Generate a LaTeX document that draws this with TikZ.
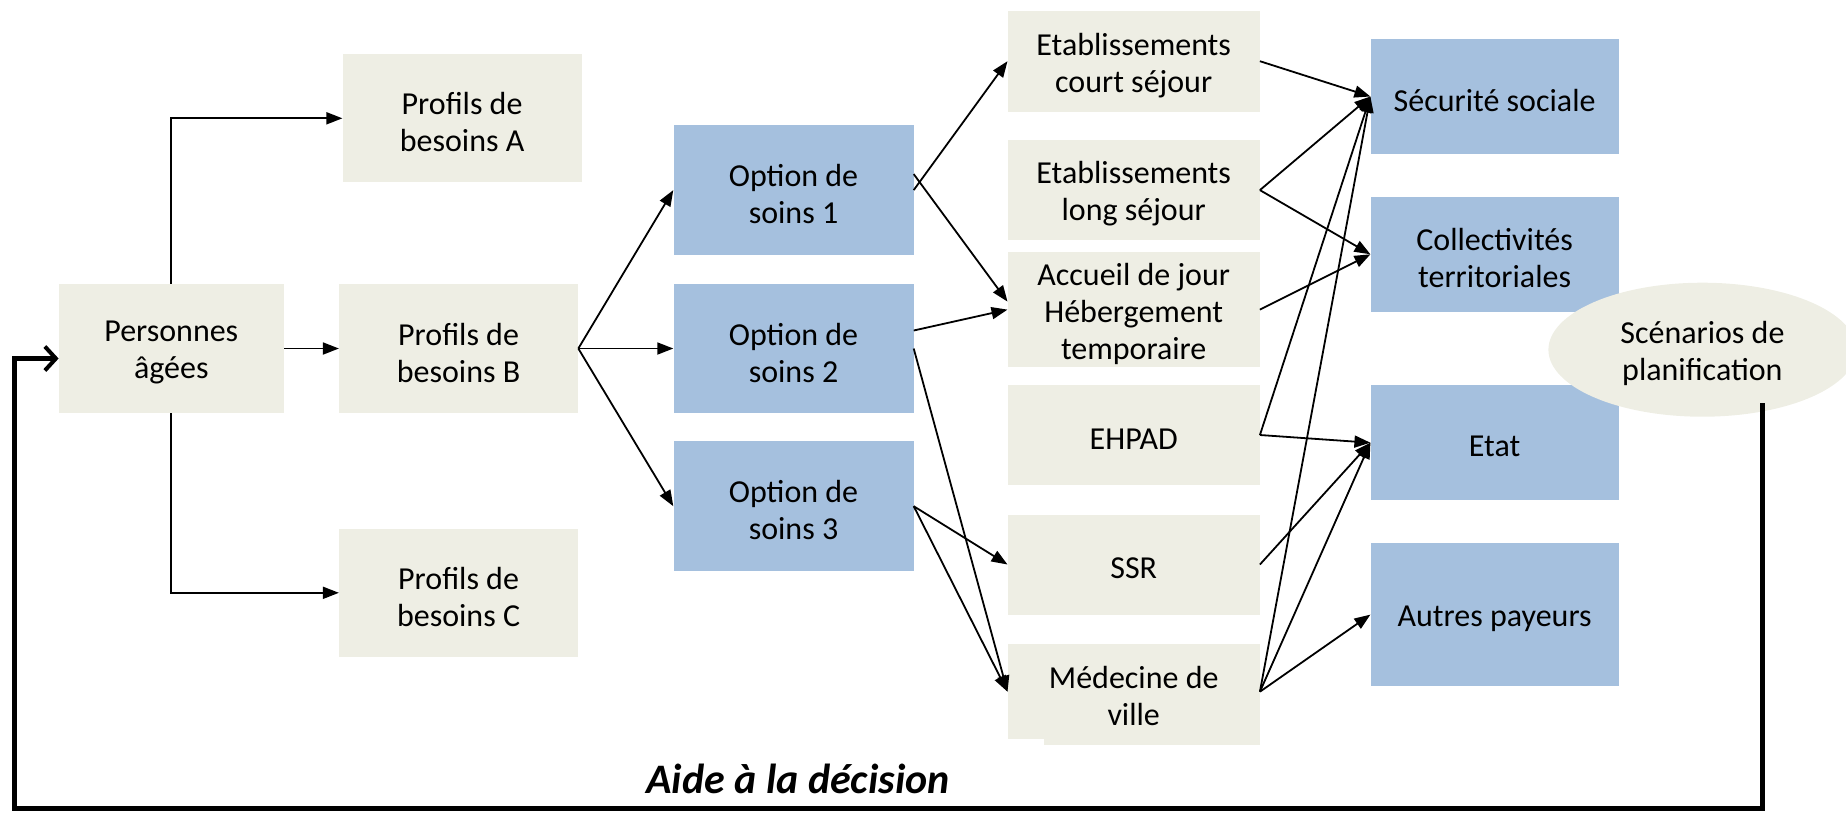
\documentclass[tikz,border=0pt]{standalone}
\usepackage{fontspec}
\setmainfont{Carlito}
\usetikzlibrary{arrows.meta,shapes.geometric}
\definecolor{beigec}{RGB}{238,238,228}
\definecolor{bluec}{RGB}{165,192,222}
\begin{document}
\begin{tikzpicture}[x=1pt,y=-1pt,
  base/.style={inner sep=0pt, align=center, font=\fontsize{32}{37}\selectfont, text=black},
  txt/.style={base, yshift=-4pt},
  bbox/.style={inner sep=0pt, rectangle, fill=beigec},
  blbox/.style={inner sep=0pt, rectangle, fill=bluec},
  conn/.style={line width=1.8pt, draw=black, -{Triangle[length=16pt,width=12pt]}},
  fback/.style={line width=5pt, draw=black, line join=miter, -{Straight Barb[length=11pt,width=24pt,line width=4pt]}}
]
\useasboundingbox (0,0) rectangle (1846,815);
% column 1
\node[bbox, minimum width=225pt, minimum height=129.5pt, label={[txt]center:{Personnes\\âgées}}] (pa) at (171.3,348.5) {};
% column 2
\node[bbox, minimum width=239pt, minimum height=128pt, label={[txt]center:{Profils de\\besoins A}}] (pfa) at (462.1,118.3) {};
\node[bbox, minimum width=239pt, minimum height=129.5pt, label={[txt]center:{Profils de\\besoins B}}] (pfb) at (458.6,348.5) {};
\node[bbox, minimum width=239pt, minimum height=128pt, label={[txt]center:{Profils de\\besoins C}}] (pfc) at (458.6,592.8) {};
% column 3
\node[blbox, minimum width=240pt, minimum height=129.5pt, label={[txt]center:{Option de\\soins 1}}] (o1) at (793.5,190.1) {};
\node[blbox, minimum width=240pt, minimum height=129.5pt, label={[txt]center:{Option de\\soins 2}}] (o2) at (793.5,348.5) {};
\node[blbox, minimum width=240pt, minimum height=129.5pt, label={[txt]center:{Option de\\soins 3}}] (o3) at (793.5,506.2) {};
% column 4
\node[bbox, minimum width=252pt, minimum height=101pt, label={[txt]center:{Etablissements\\court séjour}}] (court) at (1133.7,61.2) {};
\node[bbox, minimum width=252pt, minimum height=100pt, label={[txt]center:{Etablissements\\long séjour}}] (long) at (1133.7,190.1) {};
\node[bbox, minimum width=252pt, minimum height=115pt, label={[txt]center:{Accueil de jour\\Hébergement\\temporaire}}] (acc) at (1133.7,309.6) {};
\node[bbox, minimum width=252pt, minimum height=100pt, label={[txt]center:{EHPAD}}] (ehpad) at (1133.7,435) {};
\node[bbox, minimum width=252pt, minimum height=100pt, label={[txt]center:{SSR}}] (ssr) at (1133.7,564.5) {};
\fill[beigec] (1044,706) rectangle (1259.7,745);
\node[bbox, minimum width=252pt, minimum height=95pt, label={[txt]center:{Médecine de\\ville}}] (med) at (1133.7,691.7) {};
% column 5
\node[blbox, minimum width=248pt, minimum height=115pt, label={[txt]center:{Sécurité sociale}}] (secu) at (1494.6,96.5) {};
\node[blbox, minimum width=248pt, minimum height=115pt, label={[txt]center:{Collectivités\\territoriales}}] (coll) at (1494.6,254.3) {};
\node[blbox, minimum width=248pt, minimum height=115pt, label={[txt]center:{Etat}}] (etat) at (1494.6,442.7) {};
\node[blbox, minimum width=248pt, minimum height=143.6pt, label={[txt]center:{Autres payeurs}}] (autres) at (1494.6,614.6) {};
% ellipse
\node[inner sep=0pt, ellipse, fill=beigec, minimum width=308pt, minimum height=134pt, label={[txt]center:{Scénarios de\\planification}}] (scen) at (1702.4,349.7) {};
% connectors
\draw[conn] (pa.north) |- (pfa.west);
\draw[conn] (pa.east) -- (pfb.west);
\draw[conn] (pa.south) |- (pfc.west);
\draw[conn] (pfb.east) -- (o1.west);
\draw[conn] (pfb.east) -- (o2.west);
\draw[conn] (pfb.east) -- (o3.west);
\draw[conn] (o1.east) -- (court.west);
\draw[conn] ([yshift=16pt]o1.east) -- ([yshift=8pt]acc.west);
\draw[conn] ([yshift=18pt]o2.east) -- (acc.west);
\draw[conn] (o2.east) -- (med.west);
\draw[conn] (o3.east) -- (ssr.west);
\draw[conn] (o3.east) -- (med.west);
\draw[conn] (court.east) -- (secu.west);
\draw[conn] (long.east) -- (secu.west);
\draw[conn] (long.east) -- (coll.west);
\draw[conn] (acc.east) -- (coll.west);
\draw[conn] (ehpad.east) -- (secu.west);
\draw[conn] (ehpad.east) -- (etat.west);
\draw[conn] (ssr.east) -- (etat.west);
\draw[conn] (med.east) -- (secu.west);
\draw[conn] (med.east) -- (etat.west);
\draw[conn] (med.east) -- (autres.west);
% feedback loop
\coordinate (fbtop) at (1762,403);
\coordinate (fbr) at (1762,808);
\coordinate (fbl) at (14,808);
\draw[fback] (fbtop) -- (fbr) -- (fbl) |- ([yshift=-10pt]pa.west);
\node[base, font=\fontsize{42}{48}\selectfont\bfseries\itshape] (aide) at (798,779) {Aide à la décision};
\end{tikzpicture}
\end{document}
